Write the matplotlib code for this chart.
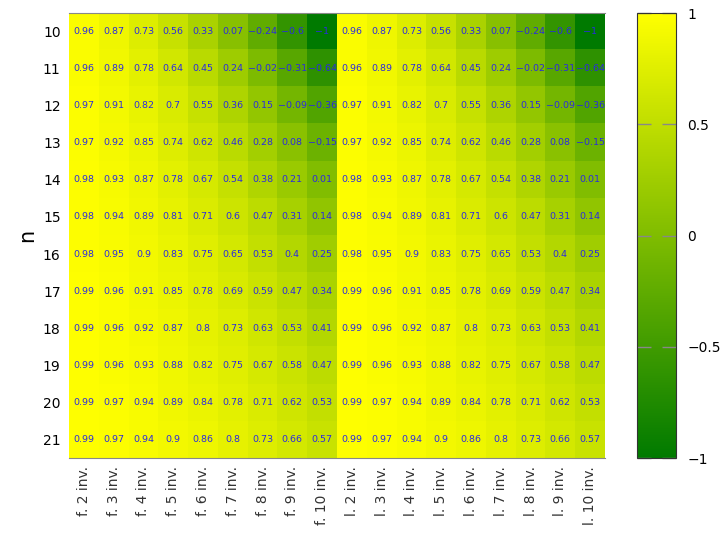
import numpy as np
import matplotlib.pyplot as plt
from matplotlib.colors import LinearSegmentedColormap

n_values = [10, 11, 12, 13, 14, 15, 16, 17, 18, 19, 20, 21]
columns = ["f. 2 inv.", "f. 3 inv.", "f. 4 inv.", "f. 5 inv.", "f. 6 inv.",
           "f. 7 inv.", "f. 8 inv.", "f. 9 inv.", "f. 10 inv.",
           "l. 2 inv.", "l. 3 inv.", "l. 4 inv.", "l. 5 inv.", "l. 6 inv.",
           "l. 7 inv.", "l. 8 inv.", "l. 9 inv.", "l. 10 inv."]

# rows n=10..21, columns 2..10 inv. (same values for f. and l.)
f_values = [
    [0.96, 0.87, 0.73, 0.56, 0.33, 0.07, -0.24, -0.6, -1],
    [0.96, 0.89, 0.78, 0.64, 0.45, 0.24, -0.02, -0.31, -0.64],
    [0.97, 0.91, 0.82, 0.7, 0.55, 0.36, 0.15, -0.09, -0.36],
    [0.97, 0.92, 0.85, 0.74, 0.62, 0.46, 0.28, 0.08, -0.15],
    [0.98, 0.93, 0.87, 0.78, 0.67, 0.54, 0.38, 0.21, 0.01],
    [0.98, 0.94, 0.89, 0.81, 0.71, 0.6, 0.47, 0.31, 0.14],
    [0.98, 0.95, 0.9, 0.83, 0.75, 0.65, 0.53, 0.4, 0.25],
    [0.99, 0.96, 0.91, 0.85, 0.78, 0.69, 0.59, 0.47, 0.34],
    [0.99, 0.96, 0.92, 0.87, 0.8, 0.73, 0.63, 0.53, 0.41],
    [0.99, 0.96, 0.93, 0.88, 0.82, 0.75, 0.67, 0.58, 0.47],
    [0.99, 0.97, 0.94, 0.89, 0.84, 0.78, 0.71, 0.62, 0.53],
    [0.99, 0.97, 0.94, 0.9, 0.86, 0.8, 0.73, 0.66, 0.57],
]
l_values = [
    [0.96, 0.87, 0.73, 0.56, 0.33, 0.07, -0.24, -0.6, -1],
    [0.96, 0.89, 0.78, 0.64, 0.45, 0.24, -0.02, -0.31, -0.64],
    [0.97, 0.91, 0.82, 0.7, 0.55, 0.36, 0.15, -0.09, -0.36],
    [0.97, 0.92, 0.85, 0.74, 0.62, 0.46, 0.28, 0.08, -0.15],
    [0.98, 0.93, 0.87, 0.78, 0.67, 0.54, 0.38, 0.21, 0.01],
    [0.98, 0.94, 0.89, 0.81, 0.71, 0.6, 0.47, 0.31, 0.14],
    [0.98, 0.95, 0.9, 0.83, 0.75, 0.65, 0.53, 0.4, 0.25],
    [0.99, 0.96, 0.91, 0.85, 0.78, 0.69, 0.59, 0.47, 0.34],
    [0.99, 0.96, 0.92, 0.87, 0.8, 0.73, 0.63, 0.53, 0.41],
    [0.99, 0.96, 0.93, 0.88, 0.82, 0.75, 0.67, 0.58, 0.47],
    [0.99, 0.97, 0.94, 0.89, 0.84, 0.78, 0.71, 0.62, 0.53],
    [0.99, 0.97, 0.94, 0.9, 0.86, 0.8, 0.73, 0.66, 0.57],
]

data = np.hstack([np.array(f_values), np.array(l_values)])

cmap = LinearSegmentedColormap.from_list("gy", ["#007a00", "#ffff00"])

fig = plt.figure(figsize=(7.25, 5.33), dpi=100)
ax = fig.add_axes([0.0952, 0.1407, 0.7393, 0.8349])
cax = fig.add_axes([0.8786, 0.1407, 0.0538, 0.8349])

im = ax.imshow(data, cmap=cmap, vmin=-1, vmax=1, aspect="auto",
               interpolation="nearest")

for i in range(data.shape[0]):
    for j in range(data.shape[1]):
        v = float(data[i, j])
        s = "{:g}".format(round(v, 2)).replace("-", "\u2212")
        ax.text(j, i, s, ha="center", va="center", fontsize=6.8,
                color="#2a2ae0", zorder=5)

ax.set_xticks(range(len(columns)))
ax.set_xticklabels(columns, rotation=90, fontsize=10, color="#333333")
ax.set_yticks(range(len(n_values)))
ax.set_yticklabels(n_values, fontsize=10)
ax.tick_params(length=0, pad=6)
ax.set_ylabel("n", fontsize=15)
for side in ["left", "right"]:
    ax.spines[side].set_visible(False)
for side in ["top", "bottom"]:
    ax.spines[side].set_color("#888888")

cb = fig.colorbar(im, cax=cax, ticks=[-1, -0.5, 0, 0.5, 1])
cb.ax.set_yticklabels(["\u22121", "\u22120.5", "0", "0.5", "1"])
cb.ax.tick_params(labelsize=10, length=10, width=1, direction="in",
                  left=True, right=True, color="#888888", pad=8)
cb.outline.set_edgecolor("#333333")

fig.savefig("out.png", dpi=100)
